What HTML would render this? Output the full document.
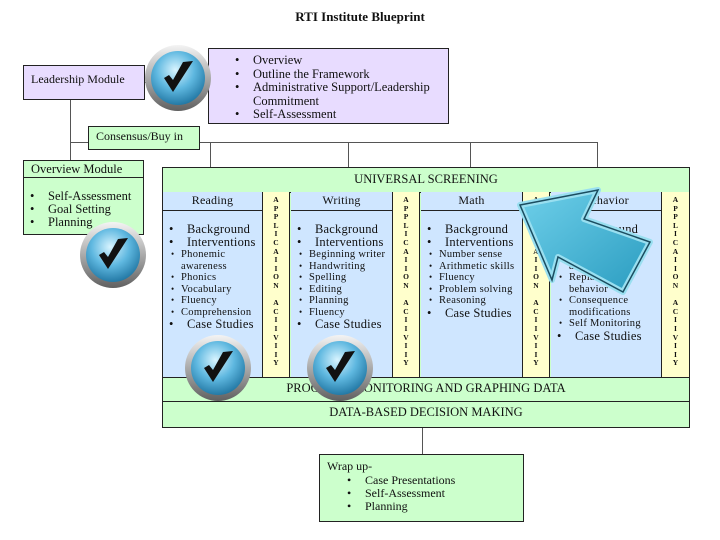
<!DOCTYPE html>
<html><head><meta charset="utf-8"><style>
body{margin:0;width:720px;height:540px;background:#fff;position:relative;overflow:hidden;font-family:"Liberation Serif",serif;color:#111}
.a{position:absolute;box-sizing:border-box}
.b{border:1px solid #222}
.lav{background:#e8dcff}.grn{background:#ccffcc}.blu{background:#cfe6ff}.yel{background:#ffffcc}
ul{margin:0;padding:0;list-style:none}
li{position:relative;padding-left:24px;line-height:13px}
li:before{content:"•";position:absolute;left:6px}
.s li{font-size:10.5px;letter-spacing:0.3px;padding-left:18px;line-height:11.5px}
.s li:before{left:8px;font-size:9px}
.v{font-size:7.5px;font-weight:bold;text-align:center;line-height:8.6px;padding-top:4px;overflow:hidden}
.ln{position:absolute;background:#555}
.h{text-align:center;font-size:12px;border-bottom:1px solid #222;height:18px;line-height:17px}
.col{font-size:12.5px;letter-spacing:0.2px}
</style></head><body>
<div class="a" style="left:0;top:9px;width:720px;text-align:center;font-weight:bold;font-size:13px">RTI Institute Blueprint</div>

<div class="ln" style="left:70px;top:100px;width:1px;height:60px"></div>
<div class="ln" style="left:70px;top:142px;width:528px;height:1px"></div>
<div class="ln" style="left:210px;top:142px;width:1px;height:25px"></div>
<div class="ln" style="left:348px;top:142px;width:1px;height:25px"></div>
<div class="ln" style="left:470px;top:142px;width:1px;height:25px"></div>
<div class="ln" style="left:597px;top:142px;width:1px;height:25px"></div>
<div class="ln" style="left:422px;top:427px;width:1px;height:27px"></div>
<div class="ln" style="left:145px;top:82px;width:63px;height:1px"></div>

<div class="a b lav" style="left:23px;top:65px;width:122px;height:35px;padding:6px 0 0 7px;font-size:12px">Leadership Module</div>
<div class="a b lav" style="left:208px;top:48px;width:241px;height:76px;padding:5px 6px 0 20px;font-size:12.5px">
<ul><li style="line-height:13.5px">Overview</li><li style="line-height:13.5px">Outline the Framework</li><li style="line-height:13.5px">Administrative Support/Leadership Commitment</li><li style="line-height:13.5px">Self-Assessment</li></ul></div>
<div class="a b grn" style="left:88px;top:126px;width:112px;height:24px;padding:2px 0 0 7px;font-size:12px">Consensus/Buy in</div>

<div class="a b grn" style="left:23px;top:160px;width:121px;height:75px;font-size:12.5px">
<div style="border-bottom:1px solid #222;height:16px;padding-left:7px;line-height:16px">Overview Module</div>
<ul style="margin-top:12px"><li>Self-Assessment</li><li>Goal Setting</li><li>Planning</li></ul></div>

<div class="a b grn" style="left:162px;top:167px;width:528px;height:261px">
<div style="text-align:center;font-size:12.5px;height:24px;line-height:22px;border-bottom:1px solid #222">UNIVERSAL SCREENING</div>
</div>
<div class="a blu col" style="left:163px;top:192px;width:100px;height:185px;border-right:1px solid #222"><div class="h">Reading</div>
<ul style="margin-top:12px"><li>Background</li><li>Interventions</li></ul>
<ul class="s"><li>Phonemic awareness</li><li>Phonics</li><li>Vocabulary</li><li>Fluency</li><li>Comprehension</li></ul>
<ul><li>Case Studies</li></ul></div>
<div class="a yel v" style="left:263px;top:192px;width:27px;height:185px;border-right:1px solid #222">A<br>P<br>P<br>L<br>I<br>C<br>A<br>I<br>I<br>O<br>N<br><br>A<br>C<br>I<br>I<br>V<br>I<br>I<br>Y</div>
<div class="a blu col" style="left:291px;top:192px;width:102px;height:185px;border-right:1px solid #222"><div class="h">Writing</div>
<ul style="margin-top:12px"><li>Background</li><li>Interventions</li></ul>
<ul class="s"><li>Beginning writer</li><li>Handwriting</li><li>Spelling</li><li>Editing</li><li>Planning</li><li>Fluency</li></ul>
<ul><li>Case Studies</li></ul></div>
<div class="a yel v" style="left:393px;top:192px;width:27px;height:185px;border-right:1px solid #222">A<br>P<br>P<br>L<br>I<br>C<br>A<br>I<br>I<br>O<br>N<br><br>A<br>C<br>I<br>I<br>V<br>I<br>I<br>Y</div>
<div class="a blu col" style="left:421px;top:192px;width:102px;height:185px;border-right:1px solid #222"><div class="h">Math</div>
<ul style="margin-top:12px"><li>Background</li><li>Interventions</li></ul>
<ul class="s"><li>Number sense</li><li>Arithmetic skills</li><li>Fluency</li><li>Problem solving</li><li>Reasoning</li></ul>
<ul><li>Case Studies</li></ul></div>
<div class="a yel v" style="left:523px;top:192px;width:27px;height:185px;border-right:1px solid #222">A<br>P<br>P<br>L<br>I<br>C<br>A<br>I<br>I<br>O<br>N<br><br>A<br>C<br>I<br>I<br>V<br>I<br>I<br>Y</div>
<div class="a blu col" style="left:551px;top:192px;width:111px;height:185px;border-right:1px solid #222"><div class="h">Behavior</div>
<ul style="margin-top:12px"><li>Background</li><li>Interventions</li></ul>
<ul class="s"><li>Functional assessment</li><li>Replacement behavior</li><li>Consequence modifications</li><li>Self Monitoring</li></ul>
<ul><li>Case Studies</li></ul></div>
<div class="a yel v" style="left:662px;top:192px;width:27px;height:185px">A<br>P<br>P<br>L<br>I<br>C<br>A<br>I<br>I<br>O<br>N<br><br>A<br>C<br>I<br>I<br>V<br>I<br>I<br>Y</div>
<div class="ln" style="left:163px;top:377px;width:526px;height:1px;background:#222"></div>
<div class="a grn" style="left:163px;top:378px;width:526px;height:24px;text-align:center;font-size:12.5px;line-height:20px;border-bottom:1px solid #222">PROGRESS MONITORING AND GRAPHING DATA</div>
<div class="a" style="left:163px;top:402px;width:526px;height:24px;text-align:center;font-size:12.5px;line-height:20px">DATA-BASED DECISION MAKING</div>

<div class="a b grn" style="left:319px;top:454px;width:205px;height:68px;padding:4px 0 0 7px;font-size:12px">Wrap up-
<ul style="padding-left:14px"><li>Case Presentations</li><li>Self-Assessment</li><li>Planning</li></ul></div>

<svg class="a" style="left:0;top:0" width="720" height="540">
<defs>
<radialGradient id="g" cx="0.45" cy="0.35" r="0.7"><stop offset="0" stop-color="#d8f4ff"/><stop offset="0.5" stop-color="#5fb8e0"/><stop offset="1" stop-color="#1a6f9c"/></radialGradient>
<linearGradient id="r" x1="0" y1="0" x2="0" y2="1"><stop offset="0" stop-color="#f4f4f4"/><stop offset="1" stop-color="#606060"/></linearGradient>
<linearGradient id="ar" x1="0" y1="0" x2="1" y2="1"><stop offset="0" stop-color="#6fd0ea"/><stop offset="1" stop-color="#2a9cc0"/></linearGradient>
<g id="c"><circle r="33" fill="url(#r)"/><circle r="27" fill="url(#g)"/><path d="M-14,0 L-5,14 L15,-17 L5,-16 L-5,2 L-9,-3 Z" fill="#111"/></g>
</defs>
<use href="#c" x="178" y="78"/>
<use href="#c" x="113" y="255"/>
<use href="#c" x="218" y="368"/>
<use href="#c" x="340" y="368"/>
<polygon points="520,205 598,190 584,219 650,242 623,292 558,257 552,280" fill="url(#ar)" stroke="#99dff0" stroke-width="6" stroke-linejoin="round"/>
<polygon points="520,205 598,190 584,219 650,242 623,292 558,257 552,280" fill="none" stroke="#1b4d60" stroke-width="1.5"/>
</svg>
</body></html>
